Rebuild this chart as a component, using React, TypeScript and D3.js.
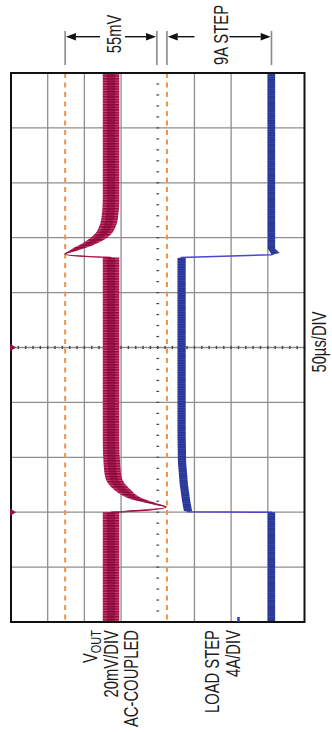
import React from "react";
import * as d3 from "d3";

const WIDTH = 332;
const HEIGHT = 732;

// Screen grid: 10 time divisions (50 µs/div), 8 amplitude divisions
const timeGrid = [0, 50, 100, 150, 200, 250, 300, 350, 400, 450, 500];
const ampGrid = [-4, -3, -2, -1, 0, 1, 2, 3, 4];

// Channel settings
const VOUT_POS_DIV = 1.274; // channel offset, divisions
const VOUT_MV_PER_DIV = 20;
const LOAD_POS_DIV = -3.1;
const LOAD_A_PER_DIV = 4;

// VOUT (AC-coupled deviation) — time µs, centre mV, noise half-width mV
const voutTime = [0, 100, 100.25, 104.7, 107.5, 111, 115.5, 120, 125, 131, 143, 166, 332, 332.3, 335, 338, 341.5, 345, 349.5, 354, 360, 368, 384, 500];
const voutMv = [0, 0, -4.4, -30, -24, -16, -10, -6.5, -3.5, -1.5, -0.5, 0, 0, 4.8, 25, 21, 16, 11.5, 7, 4, 2, 0.7, 0, 0];
const voutNoise = [4.5, 4.5, 0, 0.3, 2, 3.5, 4, 4.5, 4.5, 4.5, 4.5, 4.5, 4.5, 0, 0.3, 2, 3.5, 4, 4.5, 4.5, 4.5, 4.5, 4.5, 4.5];

// Load current — time µs, centre A, noise half-width A
const loadTime = [0, 99.9, 100.4, 101, 110, 125, 145, 170, 331.6, 332, 334.5, 336, 340, 500];
const loadAmp = [0, 0, 9.1, 9.1, 9.3, 9.55, 9.75, 9.8, 9.8, 9.8, 0, -0.4, 0, 0];
const loadNoise = [0.4, 0.4, 0, 0.45, 0.45, 0.45, 0.45, 0.45, 0.45, 0, 0, 0.5, 0.4, 0.4];

// Reference levels (orange dashed cursors), mV
const cursorMv = [25, -30.5];
// Annotation brackets
const bracketMv = [25, -25];
const bracketAmp = [11.4, 0];
const triggerTimes = [100, 250];
const loadTrigLevelA = 3.6;

const voutLabel = ["V", "OUT", "20mV/DIV", "AC-COUPLED"];
const loadLabel = ["LOAD STEP", "4A/DIV"];
const timeLabel = "50µs/DIV";

const PLOT = { left: 11, right: 304.5, top: 73, bottom: 622 };

const yT = d3.scaleLinear().domain([0, 500]).range([PLOT.bottom, PLOT.top]);
const xDiv = d3.scaleLinear().domain([4, -4]).range([PLOT.left, PLOT.right]);
const xV = (mv: number) => xDiv(VOUT_POS_DIV + mv / VOUT_MV_PER_DIV);
const xI = (a: number) => xDiv(LOAD_POS_DIV + a / LOAD_A_PER_DIV);

const FONT = "'Liberation Sans', Arial, Helvetica, sans-serif";
const SQ = 0.76;
const FS = 19.5;

function RotText({ x, y, anchor, size = FS, children }: any) {
  return (
    <text
      transform={`translate(${x},${y}) rotate(-90) scale(${SQ},1)`}
      textAnchor={anchor}
      fontFamily={FONT}
      fontSize={size}
      fill="#1c1c1c"
    >
      {children}
    </text>
  );
}

function Arrow({ from, to, y }: { from: number; to: number; y: number }) {
  const dir = to > from ? 1 : -1;
  const len = 10;
  const hw = 3.8;
  return (
    <g>
      <line x1={from} x2={to - dir * len} y1={y} y2={y} stroke="#111" strokeWidth={1.4} />
      <path d={`M${to},${y} L${to - dir * len},${y - hw} L${to - dir * len},${y + hw} Z`} fill="#111" />
    </g>
  );
}

export default function App() {
  const idxV = voutTime.map((_, i) => i);
  const idxI = loadTime.map((_, i) => i);

  const voutArea = d3
    .area<number>()
    .y((i) => yT(voutTime[i]))
    .x0((i) => xV(voutMv[i] + voutNoise[i]))
    .x1((i) => xV(voutMv[i] - voutNoise[i]))
    .curve(d3.curveMonotoneY);
  const voutCore = d3
    .area<number>()
    .y((i) => yT(voutTime[i]))
    .x0((i) => xV(voutMv[i] + voutNoise[i] * 0.5))
    .x1((i) => xV(voutMv[i] - voutNoise[i] * 0.5))
    .curve(d3.curveMonotoneY);
  const voutLine = d3
    .line<number>()
    .y((i) => yT(voutTime[i]))
    .x((i) => xV(voutMv[i]))
    .curve(d3.curveMonotoneY);

  const loadArea = d3
    .area<number>()
    .y((i) => yT(loadTime[i]))
    .x0((i) => xI(loadAmp[i] + loadNoise[i]))
    .x1((i) => xI(loadAmp[i] - loadNoise[i]));
  const loadLine = d3
    .line<number>()
    .y((i) => yT(loadTime[i]))
    .x((i) => xI(loadAmp[i]));

  const xc = xDiv(0);
  const yc = yT(250);
  const hTicks = d3.range(-4, 4.001, 0.2).map((v) => xDiv(v));
  const vTicks = d3.range(0, 500.001, 10).map((t) => yT(t));

  const bar55 = bracketMv.map(xV);
  const bar9 = bracketAmp.map(xI);
  const arrowY = 36.7;
  const barTop = 31;
  const barBottom = 65;

  const b55 = 121;
  const b9 = 227.5;

  return (
    <svg
      width={WIDTH}
      height={HEIGHT}
      viewBox={`0 0 ${WIDTH} ${HEIGHT}`}
      style={{ position: "absolute", left: 0, top: 0, background: "#fff" }}
    >
      <defs>
        <pattern id="redHatch" patternUnits="userSpaceOnUse" width="8" height="2.6">
          <rect width="8" height="2.6" fill="#d8427c" />
          <rect width="8" height="1.5" fill="#930b3c" />
        </pattern>
        <pattern id="blueHatch" patternUnits="userSpaceOnUse" width="8" height="2.4">
          <rect width="8" height="2.4" fill="#3a48b0" />
          <rect width="8" height="1.5" fill="#26338f" />
        </pattern>
      </defs>

      {/* grid */}
      <g stroke="#8e8e8e" strokeWidth={1.3}>
        {ampGrid
          .filter((v) => v !== 0 && Math.abs(v) !== 4)
          .map((v) => (
            <line key={`v${v}`} x1={xDiv(v)} x2={xDiv(v)} y1={PLOT.top} y2={PLOT.bottom} />
          ))}
        {timeGrid
          .filter((t) => t !== 0 && t !== 500)
          .map((t) => (
            <line key={`h${t}`} x1={PLOT.left} x2={PLOT.right} y1={yT(t)} y2={yT(t)} />
          ))}
      </g>
      {/* centre graticule ticks */}
      <g fill="#444">
        {hTicks.map((x, i) => (
          <rect key={`ht${i}`} x={x - 0.7} y={yc - 1.6} width={1.4} height={3.2} />
        ))}
        {vTicks.map((y, i) => (
          <rect key={`vt${i}`} x={xc - 1.4} y={y - 0.6} width={2.8} height={1.2} />
        ))}
      </g>

      {/* cursors */}
      <g stroke="#f0924a" strokeWidth={2} strokeDasharray="5 4.5">
        {cursorMv.map((mv) => (
          <line key={mv} x1={xV(mv)} x2={xV(mv)} y1={PLOT.top} y2={PLOT.bottom} />
        ))}
      </g>

      {/* load current trace */}
      <path d={loadLine(idxI) || ""} fill="none" stroke="#5046cc" strokeWidth={1.6} />
      <path d={loadArea(idxI) || ""} fill="url(#blueHatch)" />

      {/* VOUT trace */}
      <path d={voutLine(idxV) || ""} fill="none" stroke="#a0123f" strokeWidth={1.4} />
      <path d={voutArea(idxV) || ""} fill="url(#redHatch)" />
      <path d={voutCore(idxV) || ""} fill="#7e0632" opacity={0.55} />

      {/* frame */}
      <rect
        x={PLOT.left}
        y={PLOT.top}
        width={PLOT.right - PLOT.left}
        height={PLOT.bottom - PLOT.top}
        fill="none"
        stroke="#111"
        strokeWidth={2}
      />

      {/* trigger / reference markers */}
      {triggerTimes.map((t) => (
        <path
          key={t}
          d={`M${PLOT.left - 1},${yT(t) - 3.8} L${PLOT.left + 5},${yT(t)} L${PLOT.left - 1},${yT(t) + 3.8} Z`}
          fill="#8a1538"
        />
      ))}
      <rect x={xI(loadTrigLevelA) - 1.3} y={PLOT.bottom - 5} width={2.6} height={5} fill="#3a3fb0" />

      {/* top annotations */}
      <g stroke="#8a8a8a" strokeWidth={1.6}>
        {[...bar55, ...bar9].map((x, i) => (
          <line key={i} x1={x} x2={x} y1={barTop} y2={barBottom} />
        ))}
      </g>
      <Arrow from={b55 - 21} to={bar55[0] + 0.8} y={arrowY} />
      <Arrow from={b55 + 4} to={bar55[1] - 0.8} y={arrowY} />
      <RotText x={b55} y={34} anchor="middle">55mV</RotText>

      <Arrow from={b9 - 33} to={bar9[0] + 0.8} y={arrowY} />
      <Arrow from={b9 + 2} to={bar9[1] - 0.8} y={arrowY} />
      <RotText x={b9} y={35} anchor="middle">9A STEP</RotText>

      {/* right: time base */}
      <RotText x={325.5} y={342} anchor="middle">{timeLabel}</RotText>

      {/* bottom channel labels */}
      <RotText x={97} y={630} anchor="end">
        {voutLabel[0]}
        <tspan fontSize={14.5} dy={3.5}>{voutLabel[1]}</tspan>
      </RotText>
      <RotText x={117.5} y={630} anchor="end">{voutLabel[2]}</RotText>
      <RotText x={138} y={630} anchor="end">{voutLabel[3]}</RotText>

      <RotText x={218.5} y={630} anchor="end">{loadLabel[0]}</RotText>
      <RotText x={240} y={630} anchor="end">{loadLabel[1]}</RotText>
    </svg>
  );
}
